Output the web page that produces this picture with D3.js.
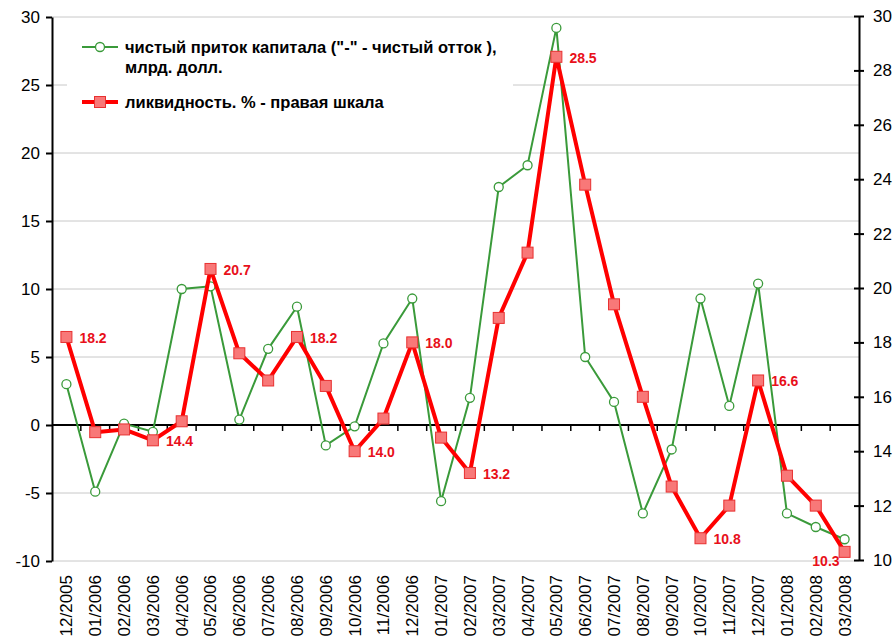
<!DOCTYPE html>
<html lang="ru">
<head>
<meta charset="utf-8">
<title>Приток капитала и ликвидность</title>
<script src="https://d3js.org/d3.v7.min.js"></script>
<style>
  body { margin: 0; background: #fff; }
  svg { font-family: Arial, "Liberation Sans", sans-serif; }
  .axis path, .axis line { stroke: #000; stroke-width: 2px; }
  .axis text { font-size: 17px; fill: #000; }
  .grid line { stroke: #c8c8c8; stroke-width: 1px; }
  .xlab { font-size: 17px; fill: #000; }
  .legend text { font-size: 16.5px; font-weight: bold; fill: #000; }
  .dlab { font-size: 14px; font-weight: bold; fill: #e8101a; }
</style>
</head>
<body>
<div id="chart"></div>
<script>
// months on the category axis
var months = ["12/2005","01/2006","02/2006","03/2006","04/2006","05/2006","06/2006",
  "07/2006","08/2006","09/2006","10/2006","11/2006","12/2006","01/2007","02/2007",
  "03/2007","04/2007","05/2007","06/2007","07/2007","08/2007","09/2007","10/2007",
  "11/2007","12/2007","01/2008","02/2008","03/2008"];

// net capital inflow, bn USD (left scale)
var inflow = [3.0, -4.9, 0.1, -0.5, 10.0, 10.2, 0.4, 5.6, 8.7, -1.5, -0.1, 6.0, 9.3, -5.6,
  2.0, 17.5, 19.1, 29.2, 5.0, 1.7, -6.5, -1.8, 9.3, 1.4, 10.4, -6.5, -7.5, -8.4];

// liquidity, % (right scale)
var liquidity = [18.2, 14.7, 14.8, 14.4, 15.1, 20.7, 17.6, 16.6, 18.2, 16.4, 14.0, 15.2, 18.0, 14.5,
  13.2, 18.9, 21.3, 28.5, 23.8, 19.4, 16.0, 12.7, 10.8, 12.0, 16.6, 13.1, 12.0, 10.3];

// which liquidity points carry a value label
var labelled = [0, 3, 5, 8, 10, 12, 14, 17, 22, 24, 27];

var leftTicks = [-10, -5, 0, 5, 10, 15, 20, 25, 30];
var rightTicks = [10, 12, 14, 16, 18, 20, 22, 24, 26, 28, 30];

var W = 896, H = 643;
var left = 52, right = 859;

var svg = d3.select("#chart").append("svg")
    .attr("width", W)
    .attr("height", H);

var x = d3.scaleBand().domain(months).range([left, right]);
var cx = function(i) { return x(months[i]) + x.bandwidth() / 2; };
var yL = d3.scaleLinear().domain([-10, 30]).range([561, 17]);
var yR = d3.scaleLinear().domain([10, 30]).range([560, 16]);

// gridlines
svg.append("g").attr("class", "grid")
  .selectAll("line")
  .data(leftTicks.filter(function(d) { return d != 0; }))
  .enter().append("line")
    .attr("x1", left).attr("x2", right)
    .attr("y1", function(d) { return yL(d); })
    .attr("y2", function(d) { return yL(d); });

// legend box sits on top of the grid
var legend = svg.append("g").attr("class", "legend");
legend.append("rect")
  .attr("x", 67).attr("y", 25).attr("width", 446).attr("height", 114)
  .attr("fill", "#fff");

// zero line with category ticks
svg.append("line")
  .attr("x1", left).attr("x2", right)
  .attr("y1", yL(0)).attr("y2", yL(0))
  .attr("stroke", "#000").attr("stroke-width", 2);
svg.append("g")
  .selectAll("line")
  .data(months.slice(1))
  .enter().append("line")
    .attr("x1", function(d) { return x(d); })
    .attr("x2", function(d) { return x(d); })
    .attr("y1", yL(0)).attr("y2", yL(0) + 6)
    .attr("stroke", "#000").attr("stroke-width", 1.5);

// plain hyphen for negatives, like the original
var fmt = function(d) { return String(d); };

// left axis
svg.append("g")
  .attr("class", "axis")
  .attr("transform", "translate(" + left + ",0)")
  .call(d3.axisLeft(yL).tickValues(leftTicks).tickFormat(fmt)
    .tickSize(6).tickSizeOuter(0).tickPadding(6));

// right axis, ticks cross the line
var ra = svg.append("g")
  .attr("class", "axis")
  .attr("transform", "translate(" + right + ",0)")
  .call(d3.axisRight(yR).tickValues(rightTicks).tickFormat(fmt)
    .tickSize(5).tickSizeOuter(0).tickPadding(9));
ra.selectAll(".tick line").attr("x1", -5).attr("x2", 5);

// category labels
svg.append("g")
  .selectAll("text")
  .data(months)
  .enter().append("text")
    .attr("class", "xlab")
    .attr("transform", function(d, i) { return "translate(" + cx(i) + ",575) rotate(-90)"; })
    .attr("dy", "0.35em")
    .attr("text-anchor", "end")
    .text(function(d) { return d; });

// inflow series (green)
var greenLine = d3.line()
  .x(function(d, i) { return cx(i); })
  .y(function(d) { return yL(d); });
svg.append("path")
  .datum(inflow)
  .attr("d", greenLine)
  .attr("fill", "none")
  .attr("stroke", "#3a9a3a")
  .attr("stroke-width", 2);
svg.append("g")
  .selectAll("circle")
  .data(inflow)
  .enter().append("circle")
    .attr("cx", function(d, i) { return cx(i); })
    .attr("cy", function(d) { return yL(d); })
    .attr("r", 4.5)
    .attr("fill", "#fff")
    .attr("stroke", "#3a9a3a")
    .attr("stroke-width", 1.3);

// liquidity series (red)
var redLine = d3.line()
  .x(function(d, i) { return cx(i); })
  .y(function(d) { return yR(d); });
svg.append("path")
  .datum(liquidity)
  .attr("d", redLine)
  .attr("fill", "none")
  .attr("stroke", "#ff0000")
  .attr("stroke-width", 4)
  .attr("stroke-linejoin", "round");
svg.append("g")
  .selectAll("rect")
  .data(liquidity)
  .enter().append("rect")
    .attr("x", function(d, i) { return cx(i) - 5.5; })
    .attr("y", function(d) { return yR(d) - 5.5; })
    .attr("width", 11).attr("height", 11)
    .attr("fill", "#f87878")
    .attr("stroke", "#e83030")
    .attr("stroke-width", 1);

// value labels
svg.append("g")
  .selectAll("text")
  .data(labelled)
  .enter().append("text")
    .attr("class", "dlab")
    .attr("x", function(i) { return i == months.length - 1 ? cx(i) - 5 : cx(i) + 13; })
    .attr("y", function(i) { return i == months.length - 1 ? yR(liquidity[i]) + 9 : yR(liquidity[i]) + 1; })
    .attr("dy", "0.35em")
    .attr("text-anchor", function(i) { return i == months.length - 1 ? "end" : "start"; })
    .text(function(i) { return liquidity[i].toFixed(1); });

// legend entries
legend.append("line").attr("x1", 82).attr("x2", 118).attr("y1", 47).attr("y2", 47)
  .attr("stroke", "#3a9a3a").attr("stroke-width", 2);
legend.append("circle").attr("cx", 100).attr("cy", 47).attr("r", 4.5)
  .attr("fill", "#fff").attr("stroke", "#3a9a3a").attr("stroke-width", 1.3);
legend.append("text").attr("x", 125).attr("y", 53)
  .text("чистый приток капитала (\"-\" - чистый отток ),");
legend.append("text").attr("x", 125).attr("y", 73)
  .text("млрд. долл.");
legend.append("line").attr("x1", 82).attr("x2", 118).attr("y1", 102).attr("y2", 102)
  .attr("stroke", "#ff0000").attr("stroke-width", 4);
legend.append("rect").attr("x", 94.5).attr("y", 96.5).attr("width", 11).attr("height", 11)
  .attr("fill", "#f87878").attr("stroke", "#e83030");
legend.append("text").attr("x", 125).attr("y", 108)
  .text("ликвидность. % - правая шкала");
</script>
</body>
</html>
